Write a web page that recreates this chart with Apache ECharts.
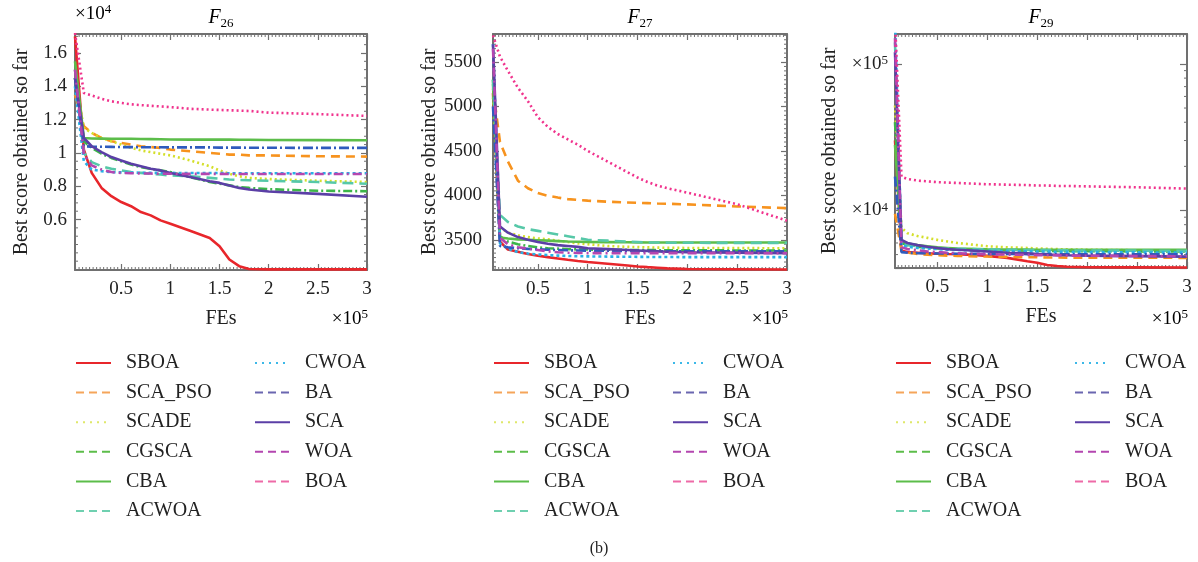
<!DOCTYPE html>
<html>
<head>
<meta charset="utf-8">
<script src="https://cdn.jsdelivr.net/npm/echarts@6/dist/echarts.min.js"></script>
<style>
  html, body { margin: 0; padding: 0; background: #fff; }
  #main { width: 1198px; height: 562px; }
</style>
</head>
<body>
<div id="main"></div>
<script>
// algorithms, in legend order
const NAMES = ['SBOA', 'SCA_PSO', 'SCADE', 'CGSCA', 'CBA', 'ACWOA', 'CWOA', 'BA', 'SCA', 'WOA', 'BOA'];

// x ticks (FEs)
const X_LABELS = [50000, 100000, 150000, 200000, 250000, 300000];
const Y26_LABELS = [6000, 8000, 10000, 12000, 14000, 16000];
const Y27_LABELS = [3500, 4000, 4500, 5000, 5500];

// sample points of the curves
const FES_F26 = [3000, 12000, 20000, 30000, 40000, 50000, 60000, 70000, 80000, 90000, 100000, 120000, 140000, 150000, 160000, 170000, 180000, 200000, 250000, 300000];
const FES_F27 = [5000, 12000, 20000, 30000, 40000, 50000, 60000, 70000, 80000, 90000, 100000, 120000, 140000, 150000, 160000, 170000, 180000, 200000, 250000, 300000];
const FES_F29 = [7500, 14000, 20000, 30000, 40000, 50000, 60000, 70000, 80000, 90000, 100000, 120000, 140000, 150000, 160000, 170000, 180000, 200000, 250000, 300000];

// F26
const f26_SBOA    = [17000, 10200, 8800, 7900, 7400, 7050, 6800, 6450, 6250, 5950, 5750, 5330, 4890, 4400, 3600, 3200, 3030, 3010, 3010, 3010];
const f26_SCA_PSO = [13500, 11600, 11200, 10900, 10700, 10600, 10500, 10400, 10350, 10300, 10200, 10100, 10000, 9950, 9900, 9900, 9850, 9850, 9800, 9780];
const f26_SCADE   = [14500, 11500, 11200, 10900, 10700, 10500, 10300, 10150, 10050, 9950, 9850, 9550, 9200, 8950, 8750, 8600, 8500, 8430, 8330, 8250];
const f26_CGSCA   = [15000, 10700, 10300, 9950, 9700, 9500, 9300, 9150, 9050, 8950, 8850, 8550, 8250, 8150, 8050, 7950, 7900, 7820, 7730, 7700];
const f26_CBA     = [15500, 10900, 10870, 10860, 10850, 10850, 10850, 10840, 10830, 10820, 10810, 10800, 10800, 10800, 10800, 10790, 10790, 10780, 10770, 10760];
const f26_ACWOA   = [14500, 10000, 9450, 9200, 9050, 8950, 8850, 8800, 8750, 8700, 8650, 8600, 8500, 8450, 8400, 8380, 8360, 8330, 8250, 8150];
const f26_CWOA    = [14000, 9500, 9000, 8900, 8850, 8830, 8820, 8810, 8800, 8800, 8800, 8790, 8790, 8790, 8780, 8780, 8780, 8780, 8780, 8780];
const f26_BA      = [14500, 10400, 10380, 10370, 10360, 10350, 10350, 10340, 10340, 10340, 10330, 10330, 10330, 10320, 10320, 10320, 10310, 10310, 10300, 10300];
const f26_SCA     = [14500, 10900, 10400, 10050, 9750, 9550, 9350, 9200, 9050, 8950, 8800, 8550, 8300, 8200, 8050, 7900, 7800, 7680, 7540, 7370];
const f26_WOA     = [15000, 9900, 9250, 9000, 8850, 8800, 8780, 8770, 8760, 8750, 8750, 8740, 8740, 8740, 8730, 8730, 8730, 8730, 8730, 8730];
const f26_BOA     = [17200, 13600, 13450, 13250, 13100, 13000, 12920, 12870, 12830, 12790, 12750, 12650, 12600, 12580, 12560, 12540, 12520, 12420, 12330, 12220];

// F27
const f27_SBOA    = [5150, 3480, 3390, 3365, 3340, 3320, 3305, 3290, 3275, 3262, 3250, 3230, 3210, 3200, 3192, 3185, 3178, 3172, 3168, 3165];
const f27_SCA_PSO = [5200, 4600, 4380, 4165, 4080, 4025, 3995, 3975, 3957, 3948, 3940, 3928, 3920, 3916, 3912, 3908, 3905, 3898, 3875, 3856];
const f27_SCADE   = [5100, 3640, 3580, 3550, 3530, 3515, 3505, 3490, 3475, 3460, 3450, 3430, 3420, 3418, 3415, 3412, 3410, 3408, 3406, 3405];
const f27_CGSCA   = [5300, 3540, 3480, 3450, 3430, 3415, 3405, 3400, 3395, 3392, 3390, 3388, 3386, 3385, 3384, 3383, 3382, 3381, 3380, 3380];
const f27_CBA     = [5250, 3525, 3515, 3505, 3500, 3495, 3490, 3485, 3480, 3478, 3476, 3474, 3472, 3471, 3470, 3470, 3470, 3470, 3470, 3470];
const f27_ACWOA   = [5300, 3780, 3700, 3650, 3620, 3600, 3580, 3560, 3540, 3520, 3500, 3490, 3480, 3475, 3470, 3470, 3468, 3466, 3465, 3465];
const f27_CWOA    = [5700, 3460, 3400, 3360, 3345, 3335, 3328, 3322, 3318, 3315, 3313, 3311, 3309, 3308, 3307, 3306, 3306, 3305, 3305, 3305];
const f27_BA      = [5000, 3430, 3415, 3405, 3398, 3393, 3388, 3385, 3382, 3380, 3378, 3376, 3374, 3373, 3372, 3371, 3371, 3370, 3370, 3370];
const f27_SCA     = [5700, 3650, 3580, 3530, 3500, 3475, 3455, 3440, 3430, 3420, 3405, 3395, 3385, 3380, 3375, 3370, 3365, 3360, 3355, 3350];
const f27_WOA     = [5650, 3520, 3450, 3415, 3400, 3385, 3370, 3360, 3355, 3352, 3350, 3350, 3350, 3350, 3350, 3350, 3350, 3350, 3350, 3348];
const f27_BOA     = [5800, 5560, 5400, 5210, 5060, 4880, 4770, 4690, 4630, 4570, 4500, 4380, 4260, 4200, 4150, 4110, 4080, 4030, 3900, 3715];

// F29 (log axis)
const f29_SBOA    = [30000, 5300, 5200, 5150, 5100, 5080, 5050, 5030, 5000, 4950, 4900, 4750, 4500, 4400, 4250, 4180, 4130, 4100, 4090, 4080];
const f29_SCA_PSO = [9500, 5300, 5150, 5050, 5000, 4950, 4920, 4900, 4880, 4860, 4850, 4820, 4800, 4790, 4780, 4780, 4770, 4770, 4760, 4750];
const f29_SCADE   = [52000, 7600, 7000, 6700, 6500, 6300, 6150, 6000, 5900, 5800, 5700, 5600, 5550, 5500, 5480, 5450, 5430, 5400, 5350, 5320];
const f29_CGSCA   = [40000, 6000, 5800, 5650, 5550, 5500, 5450, 5420, 5400, 5380, 5360, 5340, 5320, 5310, 5300, 5290, 5280, 5270, 5260, 5250];
const f29_CBA     = [28000, 6200, 5950, 5800, 5700, 5600, 5550, 5500, 5480, 5460, 5440, 5420, 5410, 5400, 5400, 5400, 5400, 5400, 5400, 5400];
const f29_ACWOA   = [140000, 6000, 5800, 5700, 5600, 5550, 5500, 5480, 5460, 5440, 5420, 5400, 5380, 5370, 5360, 5350, 5340, 5330, 5320, 5300];
const f29_CWOA    = [200000, 5800, 5650, 5550, 5500, 5450, 5400, 5380, 5350, 5330, 5300, 5280, 5260, 5250, 5240, 5230, 5220, 5200, 5180, 5150];
const f29_BA      = [17000, 5200, 5150, 5120, 5100, 5090, 5080, 5070, 5060, 5060, 5050, 5050, 5040, 5040, 5040, 5030, 5030, 5030, 5030, 5030];
const f29_SCA     = [120000, 6300, 6000, 5800, 5650, 5550, 5450, 5400, 5350, 5300, 5250, 5150, 5100, 5050, 5000, 4980, 4950, 4920, 4880, 4840];
const f29_WOA     = [150000, 5600, 5450, 5350, 5250, 5200, 5150, 5100, 5080, 5050, 5030, 5000, 4980, 4960, 4950, 4940, 4920, 4910, 4890, 4870];
const f29_BOA     = [200000, 17000, 16400, 16000, 15800, 15600, 15500, 15400, 15300, 15200, 15100, 15000, 14900, 14800, 14800, 14700, 14700, 14600, 14400, 14100];

const CHARTS = [
  { title: '26', fes: FES_F26, xMin: 3000, yType: 'value', yMin: 2970, yMax: 17140, yLabels: Y26_LABELS, nameGap: 43,
    data: [f26_SBOA, f26_SCA_PSO, f26_SCADE, f26_CGSCA, f26_CBA, f26_ACWOA, f26_CWOA, f26_BA, f26_SCA, f26_WOA, f26_BOA] },
  { title: '27', fes: FES_F27, xMin: 5000, yType: 'value', yMin: 3160, yMax: 5815, yLabels: Y27_LABELS, nameGap: 53,
    data: [f27_SBOA, f27_SCA_PSO, f27_SCADE, f27_CGSCA, f27_CBA, f27_ACWOA, f27_CWOA, f27_BA, f27_SCA, f27_WOA, f27_BOA] },
  { title: '29', fes: FES_F29, xMin: 7500, yType: 'log', yMin: 4050, yMax: 160000, yLabels: null, nameGap: 55,
    data: [f29_SBOA, f29_SCA_PSO, f29_SCADE, f29_CGSCA, f29_CBA, f29_ACWOA, f29_CWOA, f29_BA, f29_SCA, f29_WOA, f29_BOA] }
];

const COLORS = ['#e8262b', '#f7931e', '#d4df2a', '#3db54a', '#5cbd4a', '#56c8a8', '#29b0e6', '#2f5bbd', '#5b3fa6', '#b446b0', '#f0338d'];
const PLOT_DASH = ['solid', [9, 6], [2, 3], [9, 3, 2, 3], 'solid', [11, 6], [3, 3], [10, 3, 2, 3], 'solid', [9, 4, 2, 4], [2, 3]];
const LEGEND_DASH = ['solid', [8, 5], [2, 5], [8, 5], 'solid', [8, 5], [2, 5], [8, 5], 'solid', [8, 5], [8, 5]];
const LEGEND_COLORS = ['#e8262b', '#f5a55a', '#dfe86a', '#5cbd4a', '#5cbd4a', '#6fd0b0', '#3cb8e8', '#6a66b0', '#5b3fa6', '#b446b0', '#ee6aa7'];

const GRIDS = [
  { left: 75, top: 34, width: 292, height: 236 },
  { left: 493, top: 34, width: 294, height: 236 },
  { left: 895, top: 34, width: 292, height: 234 }
];

const FONT = '"Liberation Serif", "DejaVu Serif", serif';
const FRAME = '#707070';

const chart = echarts.init(document.getElementById('main'));

function fmtNum(v) { return String(+v.toFixed(2)); }

const xAxes = [], yAxes = [], series = [], legends = [];

CHARTS.forEach(function (c, g) {
  const axLine = { show: true, onZero: false, lineStyle: { color: FRAME, width: 2 } };
  const tickStyle = { color: FRAME, width: 1.2 };
  // bottom + top
  xAxes.push({
    type: 'value', gridIndex: g, min: c.xMin, max: 300000, position: 'bottom',
    axisLine: axLine,
    axisTick: { inside: true, length: 6, customValues: X_LABELS, lineStyle: tickStyle },
    axisLabel: { customValues: X_LABELS, formatter: function (v) { return fmtNum(v / 1e5); },
      fontFamily: FONT, fontSize: 19, color: '#222', margin: 10 },
    splitLine: { show: false },
    name: 'FEs', nameLocation: 'middle', nameGap: 39,
    nameTextStyle: { fontFamily: FONT, fontSize: 20, color: '#222' }
  });
  xAxes.push({
    type: 'value', gridIndex: g, min: c.xMin, max: 300000, position: 'top',
    axisLine: axLine,
    axisTick: { inside: true, length: 6, customValues: X_LABELS, lineStyle: tickStyle },
    axisLabel: { show: false }, splitLine: { show: false }
  });

  const yMain = {
    type: c.yType, gridIndex: g, min: c.yMin, max: c.yMax, position: 'left',
    axisLine: axLine,
    splitLine: { show: false },
    name: 'Best score obtained so far', nameLocation: 'middle', nameGap: c.nameGap,
    nameTextStyle: { fontFamily: FONT, fontSize: 20, color: '#222' }
  };
  const yMirror = {
    type: c.yType, gridIndex: g, min: c.yMin, max: c.yMax, position: 'right',
    axisLine: axLine, axisLabel: { show: false }, splitLine: { show: false }
  };
  if (c.yType === 'log') {
    yMain.logBase = 10; yMirror.logBase = 10;
    yMain.axisTick = { inside: true, length: 7, lineStyle: tickStyle };
    yMirror.axisTick = { inside: true, length: 7, lineStyle: tickStyle };
    yMain.axisLabel = {
      margin: 7, color: '#222',
      formatter: function (v) {
        const e = Math.round(Math.log10(v));
        return Math.abs(Math.log10(v) - e) < 1e-6 ? '{a|×10}{b|' + e + '}' : '';
      },
      rich: {
        a: { fontFamily: FONT, fontSize: 19, color: '#222' },
        b: { fontFamily: FONT, fontSize: 13, color: '#222', verticalAlign: 'top', lineHeight: 12 }
      }
    };
  } else {
    yMain.axisTick = { inside: true, length: 6, customValues: c.yLabels, lineStyle: tickStyle };
    yMirror.axisTick = { inside: true, length: 6, customValues: c.yLabels, lineStyle: tickStyle };
    yMain.axisLabel = {
      customValues: c.yLabels, margin: g === 0 ? 8 : 11,
      formatter: g === 0 ? function (v) { return fmtNum(v / 1e4); } : function (v) { return String(v); },
      fontFamily: FONT, fontSize: 19, color: '#222'
    };
  }
  yAxes.push(yMain, yMirror);

  NAMES.forEach(function (name, i) {
    const vals = c.data[i];
    series.push({
      type: 'line', name: name, xAxisIndex: 2 * g, yAxisIndex: 2 * g,
      data: c.fes.map(function (x, k) { return [x, vals[k]]; }),
      symbol: 'none', showSymbol: false, clip: true, animation: false,
      lineStyle: { color: COLORS[i], width: 2.6, type: PLOT_DASH[i] },
      itemStyle: { color: COLORS[i] }
    });
  });

  const item = function (i) {
    return { name: NAMES[i], itemStyle: { opacity: 0 },
      lineStyle: { color: LEGEND_COLORS[i], width: 2, type: LEGEND_DASH[i] } };
  };
  const legendBase = {
    orient: 'vertical', top: 353, padding: 0, itemWidth: 35, itemHeight: 14, itemGap: 9.6,
    selectedMode: false,
    textStyle: { fontFamily: FONT, fontSize: 20, color: '#222', padding: [0, 0, 0, 10] }
  };
  legends.push(Object.assign({}, legendBase, { left: GRIDS[g].left, data: [0, 1, 2, 3, 4, 5].map(item) }));
  legends.push(Object.assign({}, legendBase, { left: GRIDS[g].left + 179, data: [6, 7, 8, 9, 10].map(item) }));
});

chart.setOption({
  backgroundColor: '#fff',
  animation: false,
  grid: GRIDS,
  xAxis: xAxes,
  yAxis: yAxes,
  legend: legends,
  series: series
});

// text decorations and minor ticks
const graphics = [];
const titleRich = {
  f: { fontFamily: FONT, fontSize: 20, fontStyle: 'italic', color: '#222', lineHeight: 24 },
  s: { fontFamily: FONT, fontSize: 13, color: '#222', verticalAlign: 'bottom', lineHeight: 12 }
};
const supRich = {
  a: { fontFamily: FONT, fontSize: 19, color: '#222', lineHeight: 22 },
  b: { fontFamily: FONT, fontSize: 13, color: '#222', verticalAlign: 'top', lineHeight: 12 }
};
CHARTS.forEach(function (c, g) {
  const gr = GRIDS[g];
  graphics.push({ type: 'text', style: { text: '{f|F}{s|' + c.title + '}', rich: titleRich,
    x: gr.left + gr.width / 2, y: 18, align: 'center', verticalAlign: 'middle' } });
  graphics.push({ type: 'text', style: { text: '{a|×10}{b|5}', rich: supRich,
    x: gr.left + gr.width + 1, y: 319, align: 'right', verticalAlign: 'middle' } });
});
graphics.push({ type: 'text', style: { text: '{a|×10}{b|4}', rich: supRich, x: 75, y: 14, align: 'left', verticalAlign: 'middle' } });
graphics.push({ type: 'text', style: { text: '(b)', x: 599, y: 549, align: 'center', verticalAlign: 'middle',
  font: '16px ' + FONT, fill: '#222' } });

function tickLine(x1, y1, x2, y2) {
  return { type: 'line', silent: true, shape: { x1: x1, y1: y1, x2: x2, y2: y2 },
    style: { stroke: FRAME, lineWidth: 1 } };
}

CHARTS.forEach(function (c, g) {
  const gr = GRIDS[g];
  const bottom = gr.top + gr.height, right = gr.left + gr.width;
  // x minor ticks
  for (let k = 1; k * 50000 / 14 < 300000; k++) {
    const v = k * 50000 / 14;
    if (v <= c.xMin || k % 14 === 0) continue;
    const px = chart.convertToPixel({ xAxisIndex: 2 * g }, v);
    graphics.push(tickLine(px, bottom, px, bottom - 3));
    graphics.push(tickLine(px, gr.top, px, gr.top + 3));
  }
  // y minor ticks
  let yMinor = [];
  if (g === 0) {
    for (let v = 3000; v <= 17000; v += 500) if (!(v >= 6000 && v % 2000 === 0)) yMinor.push(v);
  } else if (g === 1) {
    for (let v = 3200; v <= 5800; v += 50) if (v % 500 !== 0) yMinor.push(v);
  } else {
    yMinor = [5000, 6000, 7000, 8000, 9000, 20000, 30000, 40000, 50000, 60000, 70000, 80000, 90000];
  }
  yMinor.forEach(function (v) {
    if (v <= c.yMin || v >= c.yMax) return;
    const py = chart.convertToPixel({ yAxisIndex: 2 * g }, v);
    graphics.push(tickLine(gr.left, py, gr.left + 3, py));
    graphics.push(tickLine(right, py, right - 3, py));
  });
});

chart.setOption({ graphic: graphics });
</script>
</body>
</html>
